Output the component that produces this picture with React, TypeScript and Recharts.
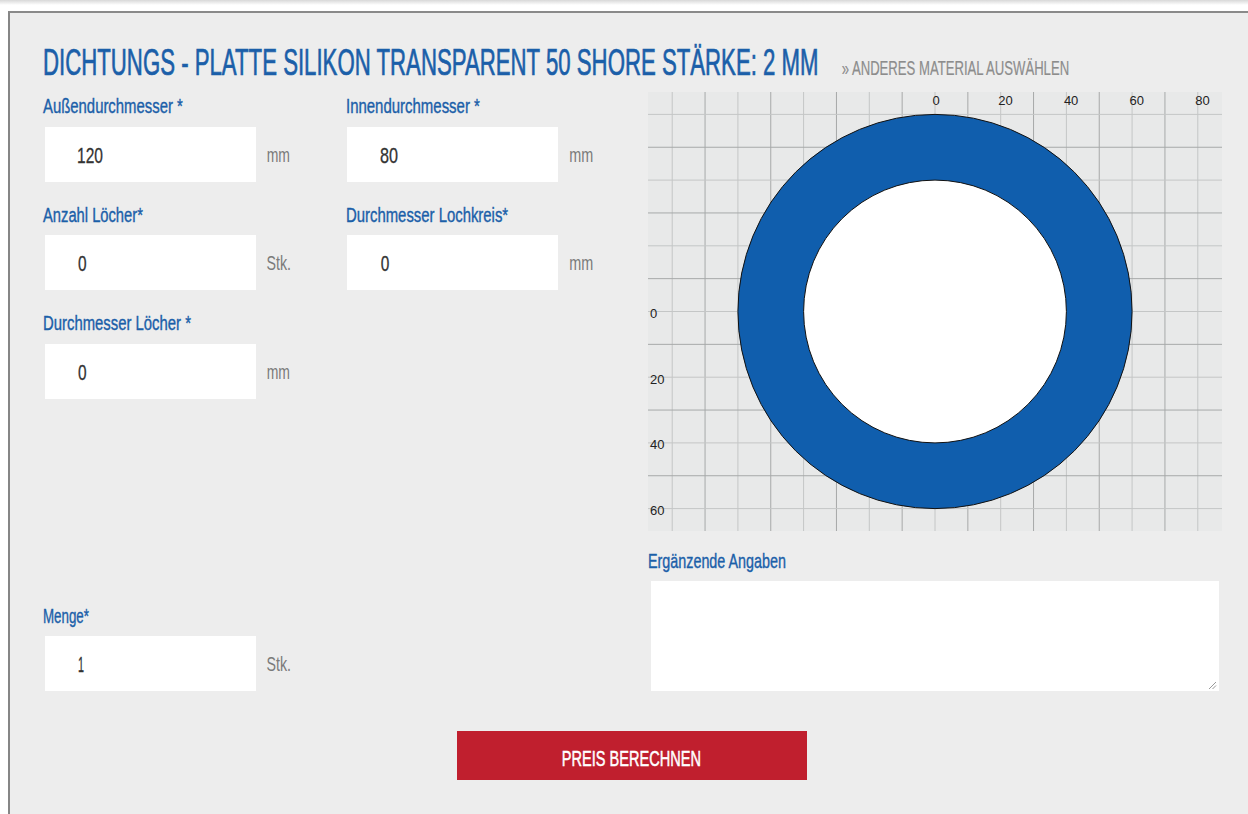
import React, { useLayoutEffect, useRef, useState } from 'react';
import { ScatterChart, XAxis, YAxis, CartesianGrid, ReferenceLine, ReferenceArea } from 'recharts';

// ---- chart data ----
const ringDiameters = [120, 80]; // outer, inner diameter in mm
const ringFills = ['#105ead', '#ffffff'];
const gridX = [-80, -70, -60, -50, -40, -30, -20, -10, 0, 10, 20, 30, 40, 50, 60, 70, 80];
const gridY = [-60, -50, -40, -30, -20, -10, 0, 10, 20, 30, 40, 50, 60];
const xTickLabels = [0, 20, 40, 60, 80];
const yTickLabels = [0, 20, 40, 60];
const xDomain = [-87.37, 87.37];
const yDomain = [-66.82, 66.82];

// ---- form values ----
const holeCount = [0];
const holeCircle = [0];
const holeDiameter = [0];
const quantity = [1];

const FONT = '"Liberation Sans", Arial, sans-serif';
const BLUE = '#1b5fa9';

// text squeezed horizontally to a target width (condensed look)
const T = ({ x, y, w, size, fill, children, sw }: any) => {
  const ref = useRef<SVGTextElement>(null);
  const [s, setS] = useState(1);
  useLayoutEffect(() => {
    if (ref.current) {
      const len = ref.current.getComputedTextLength();
      if (len > 0) setS(w / len);
    }
  }, [w, children]);
  return (
    <g transform={`translate(${x},${y}) scale(${s},1)`}>
      <text ref={ref} x={0} y={0} fontSize={size} fill={fill} fontFamily={FONT}
        stroke={sw ? fill : 'none'} strokeWidth={sw || 0}>{children}</text>
    </g>
  );
};

const XTick = (props: any) => {
  const { x, y, payload } = props;
  return (
    <text x={x - 2.5} y={y + 13} fontSize={13} fill="#222" fontFamily={FONT} textAnchor="start">{payload.value}</text>
  );
};
const YTick = (props: any) => {
  const { x, y, payload } = props;
  return (
    <text x={x + 2} y={y + 6.5} fontSize={13} fill="#222" fontFamily={FONT} textAnchor="start">{payload.value}</text>
  );
};

const ringShape = (fill: string) => (props: any) => {
  const { x, y, width, height } = props;
  return (
    <ellipse cx={x + width / 2} cy={y + height / 2} rx={Math.abs(width) / 2} ry={Math.abs(height) / 2}
      fill={fill} stroke="#111" strokeWidth={1} />
  );
};

const Box = ({ l, t, w, h }: any) => (
  <div style={{ position: 'absolute', left: l, top: t, width: w, height: h, background: '#fff' }} />
);

export default function App() {
  return (
    <div style={{ position: 'absolute', left: 0, top: 0, width: 1248, height: 814, overflow: 'hidden', background: '#fff' }}>
      <div style={{ position: 'absolute', left: 0, top: 0, width: 1248, height: 5, background: 'linear-gradient(#d8d8d8, #ffffff)' }} />
      <div style={{ position: 'absolute', left: 8, top: 11, width: 1300, height: 900, background: '#ededed', borderLeft: '2px solid #868686', borderTop: '2px solid #8a8a8a' }} />

      <Box l={45} t={127} w={211} h={55} />
      <Box l={347} t={127} w={211} h={55} />
      <Box l={45} t={235} w={211} h={55} />
      <Box l={347} t={235} w={211} h={55} />
      <Box l={45} t={344} w={211} h={55} />
      <Box l={45} t={636} w={211} h={55} />
      <Box l={651} t={581} w={568} h={110} />
      <div style={{ position: 'absolute', left: 457, top: 731, width: 350, height: 49, background: '#c01f2e' }} />

      <div style={{ position: 'absolute', left: 648, top: 92, width: 574, height: 439 }}>
        <ScatterChart width={574} height={439} margin={{ top: 0, right: 0, bottom: 0, left: 0 }}>
          <CartesianGrid fill="#e8e9e9" stroke="none" horizontal={false} vertical={false} />
          <XAxis type="number" dataKey="x" domain={xDomain} allowDataOverflow orientation="top" mirror
            ticks={xTickLabels} interval={0} axisLine={false} tickLine={false} tickSize={0} tickMargin={0} tick={<XTick />} />
          <YAxis type="number" dataKey="y" domain={yDomain} allowDataOverflow orientation="left" mirror reversed
            ticks={yTickLabels} interval={0} axisLine={false} tickLine={false} tickSize={0} tickMargin={0} tick={<YTick />} />
          {gridX.map((v) => (
            <ReferenceLine key={'gx' + v} x={v} stroke={Math.abs(v) % 20 === 10 ? '#a7a9a9' : '#c4c6c6'} strokeWidth={1} zIndex={-50} />
          ))}
          {gridY.map((v) => (
            <ReferenceLine key={'gy' + v} y={v} stroke={Math.abs(v) % 20 === 10 ? '#a7a9a9' : '#c4c6c6'} strokeWidth={1} zIndex={-50} />
          ))}
          {ringDiameters.map((d, i) => (
            <ReferenceArea key={'ring' + i} x1={-d / 2} x2={d / 2} y1={-d / 2} y2={d / 2} ifOverflow="visible"
              shape={ringShape(ringFills[i])} zIndex={300 + i} />
          ))}
        </ScatterChart>
      </div>

      <svg width={1248} height={814} style={{ position: 'absolute', left: 0, top: 0, pointerEvents: 'none' }}>
        <T x={43} y={75.3} w={776} size={37} fill={BLUE} sw={0.7}>DICHTUNGS - PLATTE SILIKON TRANSPARENT 50 SHORE STÄRKE: 2 MM</T>
        <T x={841.7} y={75} w={227.6} size={21} fill="#8c8c8c" sw={0.2}>» ANDERES MATERIAL AUSWÄHLEN</T>

        <T x={43} y={113.3} w={140} size={21} fill={BLUE} sw={0.4}>Außendurchmesser *</T>
        <T x={346} y={113.3} w={134} size={21} fill={BLUE} sw={0.4}>Innendurchmesser *</T>
        <T x={43} y={221.7} w={100} size={21} fill={BLUE} sw={0.4}>Anzahl Löcher*</T>
        <T x={346} y={221.7} w={162.3} size={21} fill={BLUE} sw={0.4}>Durchmesser Lochkreis*</T>
        <T x={43} y={330} w={148} size={21} fill={BLUE} sw={0.4}>Durchmesser Löcher *</T>
        <T x={43} y={623} w={46} size={21} fill={BLUE} sw={0.4}>Menge*</T>
        <T x={648} y={568} w={138} size={21} fill={BLUE} sw={0.4}>Ergänzende Angaben</T>

        <T x={77} y={162.7} w={26} size={22} fill="#333" sw={0.3}>{String(ringDiameters[0])}</T>
        <T x={380} y={162.7} w={18} size={22} fill="#333" sw={0.3}>{String(ringDiameters[1])}</T>
        <T x={78} y={271} w={8.6} size={22} fill="#333" sw={0.3}>{String(holeCount[0])}</T>
        <T x={380.7} y={271} w={8.6} size={22} fill="#333" sw={0.3}>{String(holeCircle[0])}</T>
        <T x={78} y={379.5} w={8.6} size={22} fill="#333" sw={0.3}>{String(holeDiameter[0])}</T>
        <T x={78} y={671.5} w={6} size={22} fill="#333" sw={0.3}>{String(quantity[0])}</T>

        <T x={266.7} y={161.7} w={23.3} size={20} fill="#7a7a7a">mm</T>
        <T x={569.3} y={161.7} w={24} size={20} fill="#7a7a7a">mm</T>
        <T x={266.5} y={270} w={24.5} size={20} fill="#7a7a7a">Stk.</T>
        <T x={569.3} y={270} w={24} size={20} fill="#7a7a7a">mm</T>
        <T x={266.7} y={378.5} w={23.3} size={20} fill="#7a7a7a">mm</T>
        <T x={266.5} y={670.5} w={24.5} size={20} fill="#7a7a7a">Stk.</T>

        <T x={561.7} y={765.7} w={139.3} size={22} fill="#ffffff" sw={0.5}>PREIS BERECHNEN</T>

        <line x1={1209} y1={689} x2={1216} y2={682} stroke="#999" strokeWidth={1} />
        <line x1={1212.5} y1={689} x2={1216} y2={685.5} stroke="#999" strokeWidth={1} />
      </svg>
    </div>
  );
}
